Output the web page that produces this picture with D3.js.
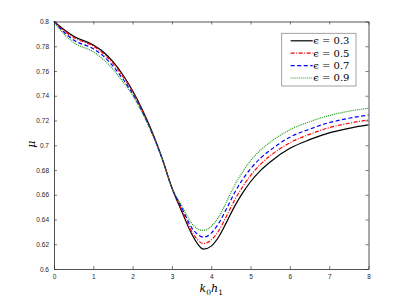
<!DOCTYPE html>
<html>
<head>
<meta charset="utf-8">
<script src="https://cdn.jsdelivr.net/npm/d3@7"></script>
<style>
    body { margin: 0; background: #ffffff; }
</style>
</head>
<body>
<div class="muchart"></div>
<script>
"use strict";

// k0*h1 values the curves are sampled at
var k0h1 = [0, 0.25, 0.5, 1, 1.25, 1.5, 1.75, 2, 2.25, 2.5, 2.75, 3, 3.25, 3.5, 3.65, 3.8, 4.0, 4.2, 4.4, 4.6, 4.8, 5.0, 5.25, 5.5, 6, 6.5, 7, 7.5, 8];

// mu for each epsilon
var mu03 = [0.8, 0.7935, 0.788, 0.781, 0.7755, 0.7675, 0.757, 0.744, 0.7285, 0.7105, 0.6895, 0.6655, 0.6465, 0.6285, 0.6205, 0.616, 0.6185, 0.6265, 0.6385, 0.651, 0.6615, 0.6705, 0.6795, 0.6865, 0.6975, 0.7045, 0.710, 0.7137, 0.7164];
var mu05 = [0.8, 0.7925, 0.787, 0.780, 0.7743, 0.7662, 0.7557, 0.743, 0.7277, 0.710, 0.6893, 0.6655, 0.648, 0.6305, 0.6238, 0.6205, 0.6235, 0.6315, 0.6435, 0.656, 0.6665, 0.6755, 0.6845, 0.6915, 0.702, 0.7088, 0.7142, 0.7178, 0.7204];
var mu07 = [0.8, 0.7915, 0.785, 0.778, 0.7722, 0.764, 0.7538, 0.7415, 0.7267, 0.7095, 0.6891, 0.6655, 0.6495, 0.6335, 0.628, 0.6257, 0.629, 0.6375, 0.6495, 0.662, 0.6725, 0.681, 0.6895, 0.696, 0.7065, 0.713, 0.7183, 0.7218, 0.7244];
var mu09 = [0.8, 0.790, 0.783, 0.7755, 0.7695, 0.7615, 0.7515, 0.7405, 0.726, 0.709, 0.689, 0.6655, 0.651, 0.637, 0.6325, 0.6312, 0.6345, 0.6425, 0.655, 0.668, 0.6785, 0.6875, 0.696, 0.7025, 0.7125, 0.719, 0.724, 0.7275, 0.7299];

var legendLabels = ["\u03f5 = 0.3", "\u03f5 = 0.5", "\u03f5 = 0.7", "\u03f5 = 0.9"];
var xTicks = [0, 1, 2, 3, 4, 5, 6, 7, 8];
var yTicks = [0.6, 0.62, 0.64, 0.66, 0.68, 0.7, 0.72, 0.74, 0.76, 0.78, 0.8];

renderMuChart();

function renderMuChart() {
    var width = 407;
    var height = 305;
    var margin = { top: 21.5, right: 38.5, bottom: 36, left: 54 };
    var innerW = width - margin.left - margin.right;
    var innerH = height - margin.top - margin.bottom;

    var axisColor = "#262626";
    var tickFont = "Liberation Sans, Arial, sans-serif";
    var mathFont = "DejaVu Serif, Liberation Serif, serif";

    // one entry per curve
    var series = [
        { label: legendLabels[0], values: mu03, color: "#000000", dash: null },
        { label: legendLabels[1], values: mu05, color: "#ff0000", dash: "4,1.5,1,1.5" },
        { label: legendLabels[2], values: mu07, color: "#0000ff", dash: "4,2.5" },
        { label: legendLabels[3], values: mu09, color: "#1a9a1a", dash: "1,1" }
    ];

    var x = d3.scaleLinear().domain([0, 8]).range([0, innerW]);
    var y = d3.scaleLinear().domain([0.6, 0.8]).range([innerH, 0]);

    var svg = d3.select(".muchart").append("svg")
        .attr("width", width)
        .attr("height", height)
        .append("g")
        .attr("transform", "translate(" + margin.left + "," + margin.top + ")");

    // Curves
    series.forEach(function (s) {
        var pts = k0h1.map(function (k, i) { return [k, s.values[i]]; });
        var line = d3.line()
            .x(function (d) { return x(d[0]); })
            .y(function (d) { return y(d[1]); })
            .curve(d3.curveMonotoneX);
        svg.append("path")
            .datum(pts)
            .attr("d", line)
            .style("fill", "none")
            .style("stroke", s.color)
            .style("stroke-width", 1.2)
            .style("stroke-dasharray", s.dash);
    });

    // Bottom and left axes, ticks inside
    var xAxis = svg.append("g")
        .attr("transform", "translate(0," + innerH + ")")
        .call(d3.axisBottom(x).tickValues(xTicks).tickSizeInner(-3).tickSizeOuter(0).tickPadding(5));
    var yAxis = svg.append("g")
        .call(d3.axisLeft(y).tickValues(yTicks).tickFormat(d3.format("~g")).tickSizeInner(-3).tickSizeOuter(0).tickPadding(5));

    // Top and right axes, no labels
    var xTop = svg.append("g")
        .call(d3.axisTop(x).tickValues(xTicks).tickSizeInner(-3).tickSizeOuter(0).tickFormat(""));
    var yRight = svg.append("g")
        .attr("transform", "translate(" + innerW + ",0)")
        .call(d3.axisRight(y).tickValues(yTicks).tickSizeInner(-3).tickSizeOuter(0).tickFormat(""));

    [xAxis, yAxis, xTop, yRight].forEach(function (g) {
        g.select(".domain").style("stroke", axisColor).style("stroke-width", 0.8);
        g.selectAll(".tick line").style("stroke", axisColor).style("stroke-width", 0.6);
        g.selectAll("text")
            .style("fill", axisColor)
            .style("font-family", tickFont)
            .style("font-size", "6.5px");
    });

    // Axis titles
    var xLabel = svg.append("text")
        .attr("x", innerW / 2)
        .attr("y", innerH + 23)
        .attr("text-anchor", "middle")
        .style("font-family", mathFont)
        .style("font-style", "italic")
        .style("font-size", "11px")
        .style("fill", "#000");
    xLabel.append("tspan").text("k");
    xLabel.append("tspan").attr("dy", 2.5).style("font-size", "7.5px").style("font-style", "normal").text("0");
    xLabel.append("tspan").attr("dy", -2.5).text("h");
    xLabel.append("tspan").attr("dy", 2.5).style("font-size", "7.5px").style("font-style", "normal").text("1");

    svg.append("text")
        .attr("transform", "translate(" + (-19) + "," + (innerH / 2 - 1) + ") rotate(-90)")
        .attr("text-anchor", "middle")
        .style("font-family", mathFont)
        .style("font-style", "italic")
        .style("font-size", "11px")
        .style("fill", "#000")
        .text("\u03bc");

    // Legend
    var legend = svg.append("g")
        .attr("transform", "translate(" + (281.7 - margin.left) + "," + (33.3 - margin.top) + ")");
    legend.append("rect")
        .attr("width", 74.3)
        .attr("height", 52.7)
        .style("fill", "#ffffff")
        .style("stroke", "#8c8c8c")
        .style("stroke-width", 0.8);
    series.forEach(function (s, i) {
        var ly = 7.5 + i * 12.4;
        legend.append("line")
            .attr("x1", 9)
            .attr("x2", 31)
            .attr("y1", ly)
            .attr("y2", ly)
            .style("stroke", s.color)
            .style("stroke-width", 1.2)
            .style("stroke-dasharray", s.dash);
        legend.append("text")
            .attr("x", 31.5)
            .attr("y", ly + 3.5)
            .style("font-family", mathFont)
            .style("font-size", "10px")
            .style("fill", "#000")
            .text(s.label);
    });
}
</script>
</body>
</html>
